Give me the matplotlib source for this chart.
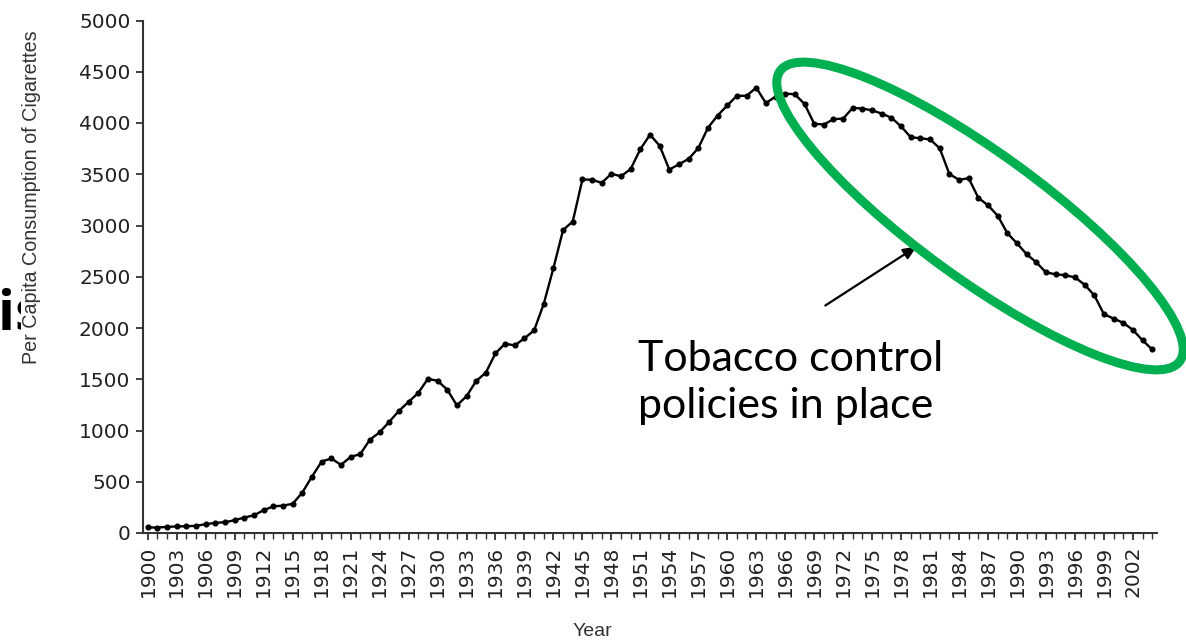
import numpy as np
import matplotlib
matplotlib.use("Agg")
import matplotlib.pyplot as plt
from matplotlib.patches import Ellipse, Rectangle

# per capita cigarette consumption, 1900-2004
years = list(range(1900, 2005))
consumption = [
    54, 53, 60, 64, 66, 70, 86, 99, 105, 125,
    151, 173, 223, 260, 267, 285, 395, 551, 697, 727,
    665, 742, 770, 911, 982, 1085, 1191, 1279, 1366, 1504,
    1485, 1399, 1245, 1334, 1483, 1564, 1754, 1847, 1830, 1900,
    1976, 2236, 2585, 2956, 3039, 3449, 3446, 3416, 3505, 3480,
    3552, 3744, 3886, 3778, 3546, 3597, 3650, 3755, 3953, 4073,
    4171, 4266, 4265, 4345, 4194, 4258, 4287, 4280, 4186, 3993,
    3985, 4037, 4043, 4148, 4141, 4123, 4092, 4051, 3967, 3861,
    3851, 3840, 3753, 3502, 3446, 3461, 3270, 3197, 3096, 2926,
    2826, 2720, 2641, 2543, 2524, 2515, 2494, 2423, 2320, 2136,
    2092, 2051, 1982, 1880, 1791,
]
year_ticks = list(range(1900, 2003, 3))
value_ticks = list(range(0, 5001, 500))

fig = plt.figure(figsize=(11.86, 6.42), dpi=100)
W, H = 1186, 642

# bits of the slide behind the chart picture
fig.text(-2, 642 - 330, "is", transform=None, fontsize=40, fontweight="bold",
         family=["Open Sans", "DejaVu Sans"], color="black", zorder=0.5,
         va="baseline", ha="left")
fig.patches.append(Rectangle((21 / W, 0), 1, 1, transform=fig.transFigure,
                             facecolor="white", edgecolor="none", zorder=0.8))

ax = fig.add_axes([143 / W, 1 - 533 / H, (1157 - 143) / W, (533 - 20.5) / H])
ax.set_zorder(1)
ax.patch.set_alpha(0)

ax.plot(years, consumption, color="black", lw=1.7, marker="o", ms=3.4)

ax.set_xlim(1899.5, 2004.5)
ax.set_ylim(0, 5000)
ax.set_xticks(year_ticks)
ax.set_xticks(years, minor=True)
ax.set_xticklabels([str(y) for y in year_ticks], rotation=90)
ax.set_yticks(value_ticks)

for side in ["top", "right"]:
    ax.spines[side].set_visible(False)
for side in ["left", "bottom"]:
    ax.spines[side].set_linewidth(1.5)
    ax.spines[side].set_color("#333333")

ax.tick_params(axis="both", which="major", labelsize=14.5, labelcolor="#222222",
               color="#333333", length=5, width=1.3, pad=4)
ax.tick_params(axis="x", which="minor", length=4, width=1.0, color="#333333")
for lbl in ax.get_xticklabels() + ax.get_yticklabels():
    lbl.set_family(["DejaVu Sans"])

fig.text(32 / W, 1 - 197 / H, "Per Capita Consumption of Cigarettes", rotation=90,
         ha="center", va="center", fontsize=14.2, color="#333333",
         family=["Liberation Sans", "DejaVu Sans"])
fig.text(592 / W, 1 - 632 / H, "Year", ha="center", va="center", fontsize=14,
         color="#333333", family=["Liberation Sans", "DejaVu Sans"])

# green highlight ring
ring = Ellipse((980 / 100, (642 - 216) / 100), 4.94, 1.26, angle=-36,
               transform=fig.dpi_scale_trans, facecolor="none",
               edgecolor="#00B050", lw=6.5, zorder=5)
fig.patches.append(ring)

ax.annotate("", xy=(919, 642 - 245), xycoords="figure pixels",
            xytext=(823, 642 - 307), textcoords="figure pixels",
            arrowprops=dict(arrowstyle="-|>,head_length=0.8,head_width=0.35",
                            color="black", lw=1.6), zorder=6)

fig.text(638 / W, 1 - 418 / H, "Tobacco control\npolicies in place", fontsize=31,
         family=["Lato", "DejaVu Sans"], color="black", ha="left", va="baseline",
         linespacing=1.3)

fig.savefig("out.png", dpi=100)
